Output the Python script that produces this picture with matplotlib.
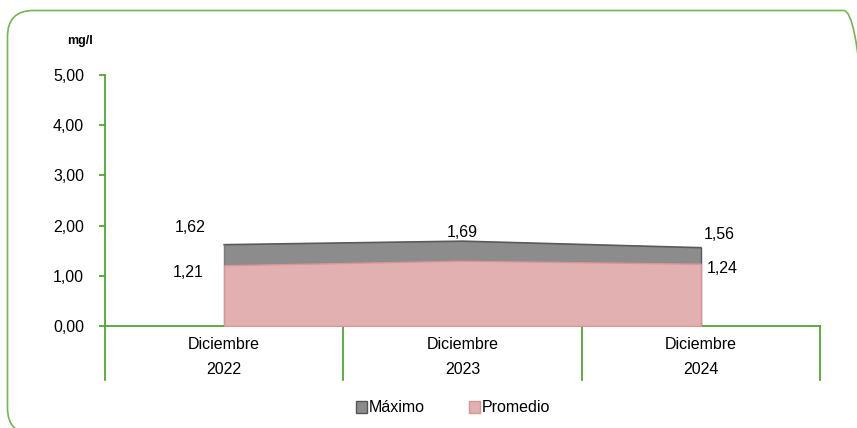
import matplotlib
matplotlib.use("Agg")
import matplotlib.pyplot as plt
from matplotlib.patches import FancyBboxPatch, Patch
from matplotlib.transforms import IdentityTransform, blended_transform_factory
import numpy as np

categories = ["Diciembre\n2022", "Diciembre\n2023", "Diciembre\n2024"]
maximo = [1.62, 1.69, 1.56]
promedio = [1.21, 1.30, 1.24]
yticks = [0, 1, 2, 3, 4, 5]
ytick_labels = ["0,00", "1,00", "2,00", "3,00", "4,00", "5,00"]
max_labels = ["1,62", "1,69", "1,56"]
prom_labels = ["1,21", "1,30", "1,24"]

plt.rcParams['font.family'] = ['Liberation Sans', 'DejaVu Sans']

GREEN = "#4ea72e"
FS = 11.5
fig = plt.figure(figsize=(8.57, 4.28), dpi=100)
W, H = 857, 428

# rounded border
border = FancyBboxPatch((7.5, -6), 862, 423.5, boxstyle="round,pad=0,rounding_size=26",
                        transform=IdentityTransform(), fill=False, edgecolor="#70b850", linewidth=1.2)
fig.patches.append(border)

ax = fig.add_axes([105 / W, 1 - 326 / H, (820 - 105) / W, (326 - 75) / H])
x = np.arange(len(categories)) + 0.5

ax.fill_between(x, maximo, color="#8c8c8c", zorder=2)
ax.plot(x, maximo, color="#5a5a5a", lw=1.2, zorder=3)
ax.plot([x[0], x[0]], [0, maximo[0]], color="#7a7a7a", lw=1, zorder=3)
ax.plot([x[-1], x[-1]], [0, maximo[-1]], color="#5a5a5a", lw=1, zorder=3)
ax.fill_between(x, promedio, color="#e2b0b0", edgecolor="#d99595", lw=1, zorder=4)

ax.set_xlim(0, 3)
ax.set_ylim(0, 5)
ax.set_yticks(yticks)
ax.set_yticklabels(ytick_labels, fontsize=FS)
ax.set_xticks([])
for s in ["top", "right"]:
    ax.spines[s].set_visible(False)
ax.spines["left"].set_color(GREEN)
ax.spines["bottom"].set_color(GREEN)
ax.spines["left"].set_linewidth(1.3)
ax.spines["bottom"].set_linewidth(1.3)
ax.tick_params(axis="y", colors=GREEN, length=4, width=1.3, labelcolor="#000000", pad=11)

# category separators and labels
trans = blended_transform_factory(ax.transData, ax.transAxes)
sep_depth = (380 - 326) / (326 - 75)
for b in range(len(categories) + 1):
    ax.plot([b, b], [0, -sep_depth], transform=trans, color=GREEN, lw=1.3, clip_on=False)
for xi, lab in zip(x, categories):
    ax.text(xi, -0.045, lab, transform=trans, ha="center", va="top", fontsize=FS,
            linespacing=1.8)

# data labels
offs_max = [(-34, 17), (0, 9), (18, 13)]
offs_prom = [(-36, -7), (0, -19), (21, -5)]
for xi, v, lab, o in zip(x, maximo, max_labels, offs_max):
    ax.annotate(lab, (xi, v), xytext=o, textcoords="offset pixels", ha="center", va="center", fontsize=FS)
for xi, v, lab, o in zip(x, promedio, prom_labels, offs_prom):
    ax.annotate(lab, (xi, v), xytext=o, textcoords="offset pixels", ha="center", va="center", fontsize=FS)

fig.text(80 / W, 1 - 41 / H, "mg/l", ha="center", va="center", fontsize=9, fontweight="bold")

handles = [Patch(facecolor="#8c8c8c", edgecolor="#555555", label="Máximo"),
           Patch(facecolor="#e2b0b0", edgecolor="#d99595", label="Promedio")]
fig.legend(handles=handles, loc="center", bbox_to_anchor=(453 / W, 1 - 408 / H), ncol=2, frameon=False,
           fontsize=FS, handlelength=0.7, handleheight=0.7, handletextpad=0.1, columnspacing=2.8)

fig.savefig("out.png", dpi=100)
